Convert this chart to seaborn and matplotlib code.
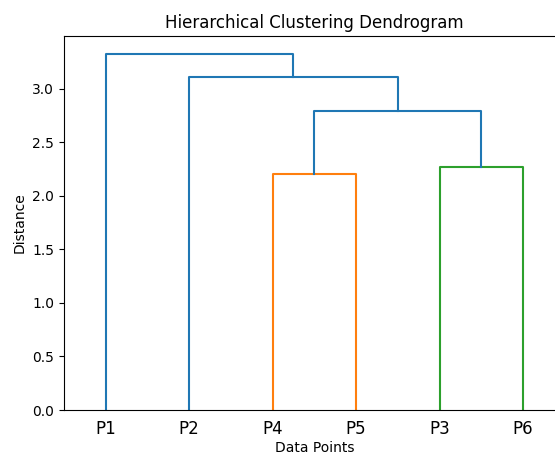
import matplotlib
matplotlib.use("Agg")
import matplotlib.pyplot as plt
import seaborn as sns
import pandas as pd

# Leaves in display order
leaf_labels = ["P1", "P2", "P4", "P5", "P3", "P6"]
# Merges (scipy-like ids: leaves 0..5, merged clusters 6..)
merge_a = [2, 4, 6, 1, 0]
merge_b = [3, 5, 7, 8, 9]
merge_height = [2.20, 2.265, 2.79, 3.11, 3.325]
merge_color = ["C1", "C2", "C0", "C0", "C0"]

fig = plt.figure(figsize=(5.55, 4.55), dpi=100)
ax = fig.add_axes([64 / 555, 45 / 455, 500.7 / 555, 374 / 455])

xpos = {i: 5 + 10 * i for i in range(len(leaf_labels))}
ypos = {i: 0.0 for i in range(len(leaf_labels))}
for k, (a, b, h, c) in enumerate(zip(merge_a, merge_b, merge_height, merge_color)):
    xa, xb = xpos[a], xpos[b]
    df = pd.DataFrame({"x": [xa, xa, xb, xb], "y": [ypos[a], h, h, ypos[b]]})
    sns.lineplot(data=df, x="x", y="y", sort=False, estimator=None,
                 color=c, linewidth=1.5, ax=ax)
    nid = len(leaf_labels) + k
    xpos[nid] = (xa + xb) / 2
    ypos[nid] = h

ax.set_xlim(0, 10 * len(leaf_labels))
ax.set_ylim(0, max(merge_height) * 1.05)
ax.set_xticks([5 + 10 * i for i in range(len(leaf_labels))])
ax.set_xticklabels(leaf_labels, fontsize=12)
ax.tick_params(axis="x", which="both", bottom=False, top=False)
ax.set_title("Hierarchical Clustering Dendrogram", fontsize=12)
ax.set_xlabel("Data Points", labelpad=2)
ax.set_ylabel("Distance")

fig.savefig("out.png", dpi=100)
